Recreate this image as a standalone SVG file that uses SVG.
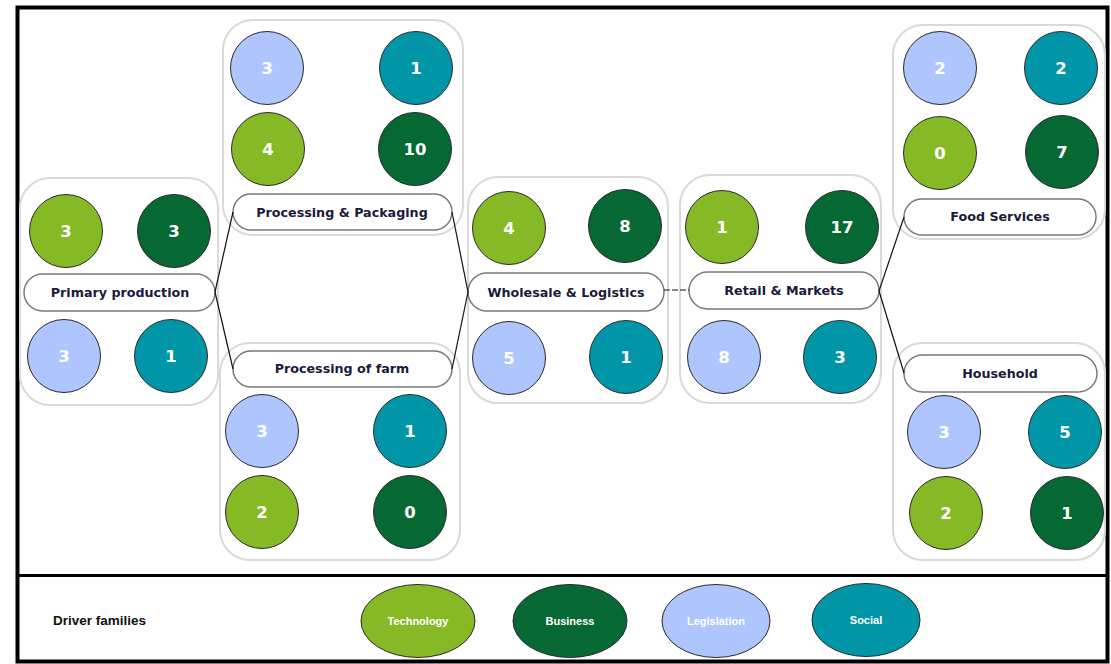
<svg xmlns="http://www.w3.org/2000/svg" width="1111" height="664" viewBox="0 0 1111 664">
<style>
.box{fill:#fff;stroke:#d9d9d9;stroke-width:2}
.pill{fill:#fff;stroke:#7a7a7a;stroke-width:1.5}
.lbl{font-family:"DejaVu Sans",Verdana,sans-serif;font-weight:bold;font-size:12.7px;fill:#1a1a3a;text-anchor:middle;dominant-baseline:central}
.num{font-family:"DejaVu Sans",Verdana,sans-serif;font-weight:bold;font-size:16.5px;fill:#fff;text-anchor:middle;dominant-baseline:central}
.c{stroke:#2a2a2a;stroke-width:1}
.tech{fill:#86b926}
.bus{fill:#066934}
.leg{fill:#aec6fd}
.soc{fill:#0096a8}
.conn{stroke:#111;stroke-width:1.2;fill:none}
.lg{font-family:"Liberation Sans Narrow","Liberation Sans",Arial,sans-serif;font-weight:bold;font-size:11px;fill:#fff;text-anchor:middle;dominant-baseline:central}
</style>
<rect x="0" y="0" width="1111" height="664" fill="#fff"/>
<rect x="17.5" y="7.5" width="1090" height="654" fill="#fff" stroke="#000" stroke-width="4"/>
<line x1="17.5" y1="575.5" x2="1107.5" y2="575.5" stroke="#000" stroke-width="3"/>

<g id="primary-production">
<rect class="box" x="20" y="178" width="198" height="227" rx="30"/>
<circle class="c tech" cx="66" cy="231" r="36.5"/><text class="num" x="66" y="231">3</text>
<circle class="c bus" cx="174" cy="231" r="36.5"/><text class="num" x="174" y="231">3</text>
<circle class="c leg" cx="64" cy="356" r="36.5"/><text class="num" x="64" y="356">3</text>
<circle class="c soc" cx="171" cy="356" r="36.5"/><text class="num" x="171" y="356">1</text>
<rect class="pill" x="24" y="274" width="191" height="37" rx="18.5"/>
<text class="lbl" x="120" y="292">Primary production</text>
</g>

<g id="processing-packaging">
<rect class="box" x="223" y="20" width="240" height="215" rx="30"/>
<circle class="c leg" cx="267" cy="68" r="36.5"/><text class="num" x="267" y="68">3</text>
<circle class="c soc" cx="416" cy="68" r="36.5"/><text class="num" x="416" y="68">1</text>
<circle class="c tech" cx="268" cy="149" r="36.5"/><text class="num" x="268" y="149">4</text>
<circle class="c bus" cx="415" cy="149" r="36.5"/><text class="num" x="415" y="149">10</text>
<rect class="pill" x="233" y="194" width="219" height="36" rx="18"/>
<text class="lbl" x="342" y="212">Processing &amp; Packaging</text>
</g>

<g id="processing-farm">
<rect class="box" x="220" y="343" width="240" height="217" rx="30"/>
<rect class="pill" x="233" y="351" width="219" height="36" rx="18"/>
<text class="lbl" x="342" y="368">Processing of farm</text>
<circle class="c leg" cx="262" cy="431" r="36.5"/><text class="num" x="262" y="431">3</text>
<circle class="c soc" cx="410" cy="431" r="36.5"/><text class="num" x="410" y="431">1</text>
<circle class="c tech" cx="262" cy="512" r="36.5"/><text class="num" x="262" y="512">2</text>
<circle class="c bus" cx="410" cy="512" r="36.5"/><text class="num" x="410" y="512">0</text>
</g>

<g id="wholesale-logistics">
<rect class="box" x="468" y="177" width="200" height="226" rx="30"/>
<circle class="c tech" cx="509" cy="228" r="36.5"/><text class="num" x="509" y="228">4</text>
<circle class="c bus" cx="625" cy="226" r="36.5"/><text class="num" x="625" y="226">8</text>
<circle class="c leg" cx="509" cy="358" r="36.5"/><text class="num" x="509" y="358">5</text>
<circle class="c soc" cx="626" cy="357" r="36.5"/><text class="num" x="626" y="357">1</text>
<rect class="pill" x="468" y="273" width="196" height="38" rx="19"/>
<text class="lbl" x="566" y="292">Wholesale &amp; Logistics</text>
</g>

<g id="retail-markets">
<rect class="box" x="680" y="175" width="201" height="228" rx="30"/>
<circle class="c tech" cx="722" cy="227" r="36.5"/><text class="num" x="722" y="227">1</text>
<circle class="c bus" cx="842" cy="227" r="36.5"/><text class="num" x="842" y="227">17</text>
<circle class="c leg" cx="724" cy="357" r="36.5"/><text class="num" x="724" y="357">8</text>
<circle class="c soc" cx="840" cy="357" r="36.5"/><text class="num" x="840" y="357">3</text>
<rect class="pill" x="689" y="272" width="190" height="37" rx="18.5"/>
<text class="lbl" x="784" y="290">Retail &amp; Markets</text>
</g>

<g id="food-services">
<rect class="box" x="893" y="25" width="212" height="214" rx="30"/>
<circle class="c leg" cx="940" cy="68" r="36.5"/><text class="num" x="940" y="68">2</text>
<circle class="c soc" cx="1061" cy="68" r="36.5"/><text class="num" x="1061" y="68">2</text>
<circle class="c tech" cx="940" cy="153" r="36.5"/><text class="num" x="940" y="153">0</text>
<circle class="c bus" cx="1062" cy="152" r="36.5"/><text class="num" x="1062" y="152">7</text>
<rect class="pill" x="904" y="199" width="192" height="36" rx="18"/>
<text class="lbl" x="1000" y="216">Food Services</text>
</g>

<g id="household">
<rect class="box" x="893" y="343" width="212" height="217" rx="30"/>
<rect class="pill" x="904" y="355" width="193" height="37" rx="18.5"/>
<text class="lbl" x="1000" y="373">Household</text>
<circle class="c leg" cx="944" cy="432" r="36.5"/><text class="num" x="944" y="432">3</text>
<circle class="c soc" cx="1065" cy="432" r="36.5"/><text class="num" x="1065" y="432">5</text>
<circle class="c tech" cx="946" cy="513" r="36.5"/><text class="num" x="946" y="513">2</text>
<circle class="c bus" cx="1067" cy="513" r="36.5"/><text class="num" x="1067" y="513">1</text>
</g>

<g id="connectors">
<line class="conn" x1="215" y1="292" x2="233" y2="212"/>
<line class="conn" x1="215" y1="292" x2="233" y2="369"/>
<line class="conn" x1="452" y1="212" x2="468" y2="292"/>
<line class="conn" x1="452" y1="369" x2="468" y2="292"/>
<line class="conn" x1="664" y1="290" x2="689" y2="290" stroke-dasharray="6,2"/>
<line class="conn" x1="879" y1="291" x2="904" y2="217"/>
<line class="conn" x1="879" y1="291" x2="904" y2="373"/>
</g>

<g id="legend">
<text x="53" y="620" font-family="'Liberation Sans Narrow','Liberation Sans',Arial,sans-serif" font-weight="bold" font-size="13.5" fill="#111" dominant-baseline="central">Driver families</text>
<ellipse class="c tech" cx="418" cy="621" rx="57" ry="36.5"/><text class="lg" x="418" y="621">Technology</text>
<ellipse class="c bus" cx="570" cy="621" rx="57" ry="36.5"/><text class="lg" x="570" y="621">Business</text>
<ellipse class="c leg" cx="716" cy="621" rx="54" ry="36.5"/><text class="lg" x="716" y="621">Legislation</text>
<ellipse class="c soc" cx="866" cy="620" rx="54" ry="36.5"/><text class="lg" x="866" y="620">Social</text>
</g>
</svg>
